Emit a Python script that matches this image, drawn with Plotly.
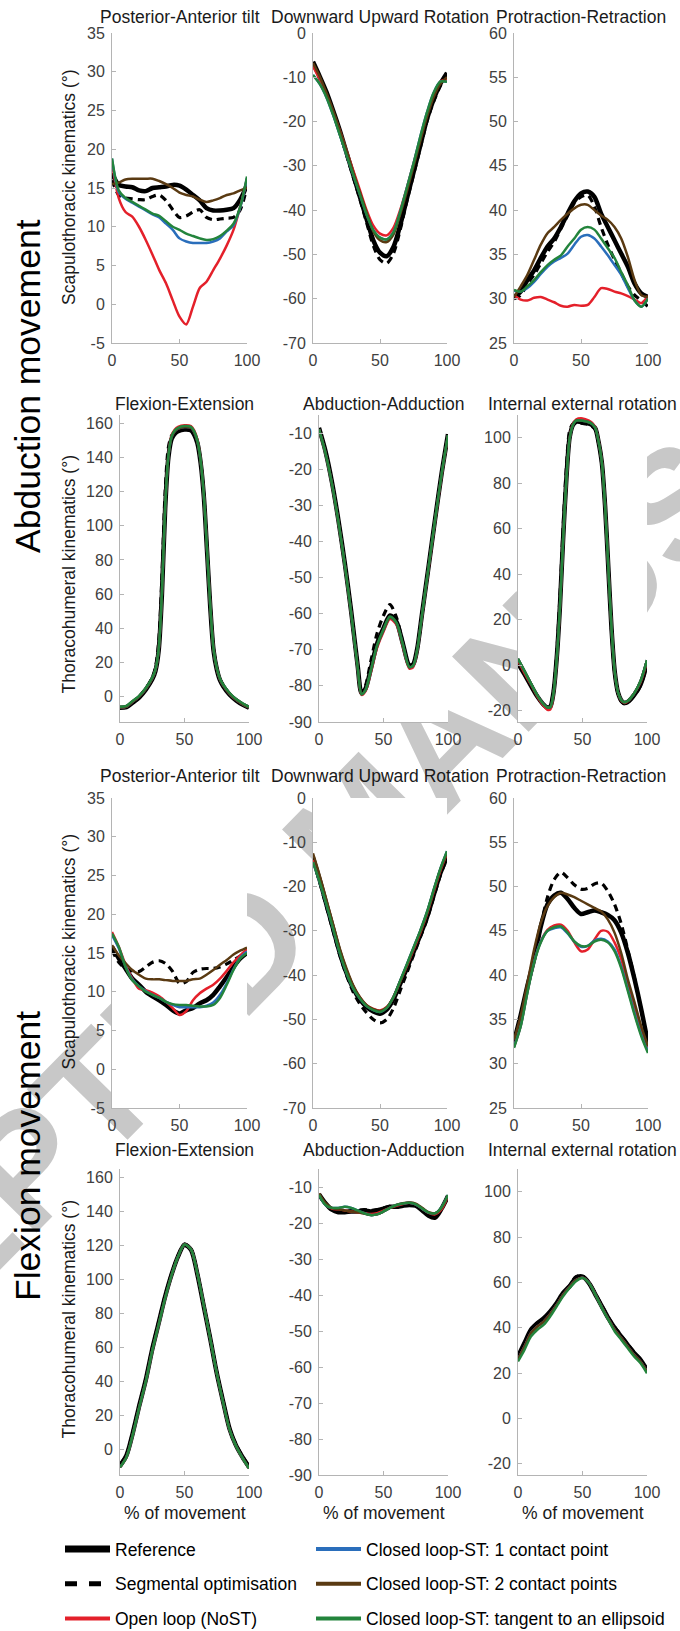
import plotly.graph_objects as go

W, H = 680, 1631

# ---------------- data ----------------
X5 = [0, 5, 10, 15, 20, 25, 30, 35, 40, 45, 50, 55, 60, 65, 70, 75, 80, 85, 90, 95, 100]

# Abduction movement - scapulothoracic
abd_pat_ref = [16.9, 15.4, 15.2, 15.1, 14.7, 14.6, 15.0, 15.1, 15.2, 15.4, 15.3, 14.8, 14.1, 13.4, 12.4, 12.1, 12.1, 12.2, 12.4, 13.5, 15.4]
abd_pat_seg = [16.0, 14.1, 13.7, 13.6, 13.5, 13.5, 13.9, 14.1, 13.4, 12.2, 11.2, 11.4, 11.9, 12.2, 11.2, 10.9, 11.0, 11.1, 11.2, 12.2, 15.2]
abd_pat_opn = [18.2, 13.7, 11.9, 11.3, 10.0, 8.3, 6.4, 4.4, 2.7, 0.5, -1.6, -2.6, -0.3, 2.1, 2.9, 4.4, 5.9, 7.6, 9.6, 12.6, 16.2]
abd_pat_cl1 = [18.8, 14.5, 13.6, 13.1, 12.6, 12.1, 11.6, 11.2, 10.4, 9.6, 8.5, 8.1, 7.9, 7.9, 7.9, 8.1, 8.5, 9.4, 10.2, 12.5, 16.3]
abd_pat_cl2 = [15.5, 15.7, 16.1, 16.2, 16.2, 16.2, 16.2, 15.9, 15.5, 15.0, 14.4, 14.1, 13.9, 13.5, 13.2, 13.4, 13.7, 14.1, 14.3, 14.7, 15.0]
abd_pat_tan = [18.8, 14.7, 13.7, 13.2, 12.7, 12.2, 11.7, 11.4, 10.7, 10.0, 9.6, 9.1, 8.8, 8.5, 8.3, 8.4, 8.8, 9.5, 10.4, 12.6, 16.5]

abd_dur_ref = [-6.5, -9.8, -13.3, -17.5, -22, -27, -32, -37, -42, -46.8, -49.6, -50.4, -48.3, -43.5, -37.5, -31.5, -25.5, -19.5, -15, -11.5, -9]
abd_dur_seg = [-7, -10.3, -13.8, -18, -22.5, -27.5, -32.5, -37.5, -42.8, -48, -51.2, -52, -49.8, -44.5, -38, -32, -26, -20, -15.5, -12, -9.5]
abd_dur_opn = [-7.5, -10.5, -13.8, -17.8, -22, -26.5, -31, -35.5, -40, -43.5, -45.3, -45.7, -44, -40, -35, -29.5, -24, -18.5, -14, -11, -10.5]
abd_dur_cl1 = [-9.5, -11.5, -14.5, -18.5, -23, -27.5, -32, -36.5, -41, -44.5, -46.2, -46.6, -45, -40.5, -35, -29.5, -23.5, -18, -13.5, -11, -11]
abd_dur_cl2 = [-6.8, -9.8, -13.5, -17.5, -22, -26.5, -31.5, -36, -40.5, -44.8, -46.8, -47.2, -45.5, -41, -35.8, -30.2, -24.5, -19, -14.5, -11.5, -10]
abd_dur_tan = [-9.5, -11.5, -14.5, -18.5, -23, -27.5, -32, -36.5, -41, -44.5, -46.2, -46.6, -45, -40.5, -35, -29.5, -23.5, -18, -13.5, -11, -11]

abd_pr_ref = [30.2, 30.8, 32.1, 33.2, 34.6, 35.9, 36.8, 38.1, 39.6, 41.0, 41.9, 42.1, 41.5, 39.6, 38.1, 36.6, 35.1, 33.6, 31.7, 30.6, 30.2]
abd_pr_seg = [30.0, 30.4, 31.7, 32.7, 34.0, 35.3, 36.4, 37.9, 39.4, 40.8, 41.5, 41.7, 40.4, 38.1, 36.1, 34.4, 32.9, 31.4, 30.4, 29.8, 29.1]
abd_pr_opn = [30.4, 29.9, 29.8, 30.1, 30.2, 29.9, 29.6, 29.2, 29.1, 29.3, 29.2, 29.3, 30.2, 31.2, 31.1, 30.8, 30.6, 30.3, 29.9, 29.5, 30.3]
abd_pr_cl1 = [30.9, 30.8, 31.2, 31.9, 32.8, 33.6, 34.2, 34.6, 35.1, 36.1, 37.0, 37.2, 36.8, 35.9, 34.9, 33.8, 32.7, 31.2, 29.8, 29.1, 30.0]
abd_pr_cl2 = [30.2, 31.4, 32.7, 34.4, 36.1, 37.4, 38.1, 38.9, 39.6, 40.2, 40.6, 40.6, 40.0, 39.4, 38.9, 38.1, 36.8, 34.7, 32.1, 30.4, 30.2]
abd_pr_tan = [31.0, 30.8, 31.4, 32.1, 33.0, 33.8, 34.4, 34.9, 35.9, 36.8, 37.8, 38.1, 37.8, 36.8, 35.7, 34.6, 33.0, 31.5, 29.8, 29.1, 30.0]

# Abduction movement - thoracohumeral
X_ABD_FE = [0, 5, 10, 15, 20, 25, 27.5, 30, 32.5, 35, 37.5, 40, 42.5, 45, 50, 55, 57.5, 60, 62.5, 65, 67.5, 70, 72.5, 75, 77.5, 80, 85, 90, 95, 100]
abd_fe_ref = [-6.7, -6.3, -3.5, -0.5, 4, 10, 15, 27, 60, 110, 140, 151, 154, 155.5, 156.5, 156, 153.5, 148.5, 137, 117, 85, 52, 27, 16, 9.5, 6, 1, -2.3, -4.8, -6.7]
abd_fe_seg = [-6.5, -6, -3.2, 0, 4.5, 11, 17, 32, 70, 120, 146, 153, 155, 156, 157, 156.5, 154, 149, 137.5, 117.5, 85.5, 52.5, 27.5, 16.5, 10, 6.5, 1.5, -2, -4.5, -6.5]
abd_fe_opn = [-6.5, -6, -3, 0, 4.5, 10.5, 15.5, 27.5, 60.5, 110.5, 141, 153, 156.5, 158, 159, 158.5, 156, 150.5, 138.5, 118, 86, 53, 28, 16.5, 10, 6.5, 1.5, -2, -4.5, -6.5]
abd_fe_cl1 = [-6.5, -6, -3, 0, 4.5, 10.5, 15.5, 27.5, 60.5, 110.5, 140.5, 152, 155.5, 157, 158, 157.5, 155, 149.5, 138, 117.5, 85.5, 52.5, 27.5, 16.5, 10, 6.5, 1.5, -2, -4.5, -6.5]
abd_fe_cl2 = [-6.5, -6, -3, 0, 4.5, 10.5, 15.5, 27.5, 60.5, 110.5, 140.5, 152, 155.5, 157, 158, 157.5, 155, 149.5, 138, 117.5, 85.5, 52.5, 27.5, 16.5, 10, 6.5, 1.5, -2, -4.5, -6.5]
abd_fe_tan = [-6, -5.5, -2.5, 0.5, 5, 11, 16, 28, 61, 111, 141, 152.5, 156, 157.5, 158.5, 158, 155.5, 150, 138.5, 118, 86, 53, 28, 17, 10.5, 7, 2, -1.5, -4, -6.2]

X_ABD_AA = [0, 5, 10, 15, 20, 25, 30, 33, 36, 40, 45, 50, 55, 60, 65, 70, 73, 76, 80, 85, 90, 95, 100]
abd_aa_ref = [-8.6, -15, -23.5, -34, -46, -59.5, -74.5, -82, -80.8, -75.5, -68.3, -64, -60.5, -62.2, -68.3, -74.3, -74, -70, -59.7, -46.8, -33.8, -21.3, -10.3]
abd_aa_seg = [-8.6, -15, -23.5, -34, -46, -59.5, -74.5, -81.8, -80, -73.5, -65.5, -60.5, -57.5, -61, -68, -74.3, -74, -70, -59.7, -46.8, -33.8, -21.3, -10.3]
abd_aa_opn = [-9, -15.5, -24, -34.5, -46.5, -60, -75, -82.5, -81.5, -76.5, -69.5, -65, -61.5, -63, -69, -75.2, -74.8, -70.5, -60.2, -47.3, -34.3, -21.8, -10.8]
abd_aa_cl1 = [-9, -15.5, -24, -34.5, -46.5, -60, -75, -82.3, -81.2, -76, -69, -64.5, -61, -62.6, -68.6, -74.8, -74.4, -70.3, -60, -47, -34, -21.5, -10.6]
abd_aa_cl2 = [-9, -15.5, -24, -34.5, -46.5, -60, -75, -82.3, -81.2, -76, -69, -64.5, -61, -62.6, -68.6, -74.8, -74.4, -70.3, -60, -47, -34, -21.5, -10.6]
abd_aa_tan = [-9, -15.5, -24, -34.5, -46.5, -60, -75, -82.3, -81.2, -76, -68.8, -64.3, -60.8, -62.5, -68.5, -74.8, -74.4, -70.3, -60, -47, -34, -21.5, -10.6]

X_ABD_IE = [0, 5, 10, 15, 20, 22.5, 25, 27.5, 30, 32.5, 35, 37.5, 40, 42.5, 45, 50, 55, 57.5, 60, 62.5, 65, 67.5, 70, 72.5, 75, 77.5, 80, 82.5, 85, 90, 95, 100]
abd_ie_ref = [0.8, -4, -9, -13.8, -17.5, -18.6, -18.3, -12, 3, 26, 56, 82, 100, 105.5, 107, 106.8, 106.2, 105.5, 104, 98, 89, 70, 43, 16, -3, -12, -15.5, -16.6, -16.2, -13.2, -8.5, 0.7]
abd_ie_seg = [0.7, -4, -9, -13.8, -17.5, -18.6, -18, -11, 5, 30, 61, 87, 103, 106, 106.5, 106.3, 105.8, 105, 103.5, 97.5, 88.5, 69.5, 42.5, 15.5, -3.5, -12.5, -16, -17, -16.5, -13.5, -9, 0.3]
abd_ie_opn = [2, -3.5, -8.5, -13.8, -18, -19.5, -19.5, -13, 2, 25, 55, 81, 99.5, 106, 108, 108.5, 107.5, 106.5, 104.5, 98.5, 89.5, 70.5, 43.5, 16.5, -3, -12, -15.5, -16.6, -16, -12.5, -7.5, 1.5]
abd_ie_cl1 = [2.8, -2.5, -8, -13.3, -17.3, -18.5, -18.5, -12.5, 2.5, 25.5, 55.5, 81.5, 99.5, 105.5, 107.5, 107.5, 106.8, 106, 104.2, 98.2, 89.2, 70.2, 43.2, 16.2, -3, -12, -15.3, -16.3, -15.8, -12.5, -7, 2.2]
abd_ie_cl2 = [2.8, -2.5, -8, -13.3, -17.3, -18.5, -18.5, -12.5, 2.5, 25.5, 55.5, 81.5, 99.5, 105.5, 107.5, 107.5, 106.8, 106, 104.2, 98.2, 89.2, 70.2, 43.2, 16.2, -3, -12, -15.3, -16.3, -15.8, -12.5, -7, 2.2]
abd_ie_tan = [2.8, -2.5, -8, -13.3, -17.3, -18.5, -18.5, -12.5, 2.5, 25.5, 55.5, 81.5, 99.5, 105.5, 107.5, 107.5, 106.8, 106, 104.2, 98.2, 89.2, 70.2, 43.2, 16.2, -3, -12, -15.3, -16.3, -15.8, -12.5, -7, 2.2]

# Flexion movement - scapulothoracic
flx_pat_ref = [15.8, 14.3, 13.0, 11.7, 10.9, 10.0, 9.4, 8.9, 8.3, 7.6, 7.2, 7.6, 7.9, 8.5, 8.9, 9.6, 10.7, 11.9, 13.2, 14.3, 15.0]
flx_pat_seg = [15.4, 13.8, 13.0, 12.7, 12.6, 13.2, 13.8, 14.0, 13.6, 12.6, 11.1, 11.3, 12.5, 12.9, 13.0, 13.0, 13.2, 13.6, 14.1, 14.6, 15.0]
flx_pat_opn = [17.7, 15.8, 13.5, 11.7, 10.4, 10.2, 9.9, 9.4, 8.7, 7.9, 7.0, 7.5, 8.9, 9.8, 10.4, 10.9, 11.7, 12.7, 13.8, 14.7, 15.5]
flx_pat_cl1 = [17.3, 15.6, 13.3, 11.6, 10.7, 10.1, 9.6, 9.2, 8.7, 8.3, 8.0, 8.0, 8.0, 8.0, 8.2, 8.6, 9.6, 11.1, 12.9, 14.4, 15.2]
flx_pat_cl2 = [16.0, 14.7, 13.7, 12.8, 12.2, 11.7, 11.6, 11.6, 11.5, 11.4, 11.4, 11.4, 11.6, 11.7, 12.2, 12.8, 13.5, 14.1, 14.8, 15.3, 15.7]
flx_pat_tan = [17.5, 15.8, 13.2, 11.5, 10.7, 10.0, 9.6, 9.2, 8.7, 8.4, 8.3, 8.3, 8.2, 8.1, 8.1, 8.3, 9.2, 10.9, 12.8, 14.3, 15.0]

flx_dur_ref = [-13.5, -18.5, -24, -29.5, -35, -39.5, -43, -45.5, -47.2, -48.2, -48.7, -47.8, -45.5, -42, -38.5, -34.8, -31, -27, -22, -17, -13.3]
flx_dur_seg = [-14, -19, -24.5, -30, -35.5, -40, -43.8, -46.5, -48.5, -50, -50.8, -50, -47.5, -43.5, -39.5, -35.5, -31.5, -27.5, -22.5, -17.5, -13.5]
flx_dur_opn = [-14, -18.5, -23.5, -29, -34.5, -39, -42.5, -45, -46.8, -47.6, -48, -47.2, -45, -41.5, -38, -34.3, -30.5, -26.3, -21.3, -16.5, -12.5]
flx_dur_cl1 = [-14.5, -19, -24, -29.5, -35, -39.5, -43, -45.3, -47, -47.9, -48.3, -47.4, -45, -41.3, -37.6, -33.8, -30, -25.8, -20.8, -16, -12]
flx_dur_cl2 = [-12.5, -17.5, -23, -28.5, -34, -38.5, -42.3, -45, -46.8, -47.7, -48.1, -47.3, -45, -41.5, -37.8, -34, -30.2, -26, -21, -16.2, -12.3]
flx_dur_tan = [-14.5, -19, -24, -29.5, -35, -39.5, -43, -45.3, -47, -47.9, -48.3, -47.4, -45, -41.3, -37.6, -33.8, -30, -25.8, -20.8, -16, -12]

flx_pr_ref = [32.5, 35.5, 38.8, 41.8, 45.5, 48.0, 49.0, 49.3, 48.6, 47.6, 46.9, 47.1, 47.3, 47.1, 46.8, 46.2, 44.8, 42.5, 39.5, 36.1, 32.3]
flx_pr_seg = [32.4, 35.4, 38.7, 41.8, 45.5, 48.8, 50.8, 51.6, 51.0, 50.2, 49.7, 49.8, 50.3, 50.4, 49.5, 48.0, 45.8, 42.8, 39.6, 36.0, 32.2]
flx_pr_opn = [31.9, 34.3, 38.1, 41.5, 43.8, 45.1, 45.6, 45.7, 45.0, 43.7, 42.7, 42.9, 44.0, 45.0, 44.9, 43.7, 41.8, 38.9, 36.1, 33.6, 31.8]
flx_pr_cl1 = [31.9, 34.3, 38.1, 41.5, 43.8, 45.0, 45.3, 45.4, 44.7, 43.8, 43.2, 43.3, 43.9, 44.1, 43.8, 42.9, 41.0, 38.4, 35.7, 33.3, 31.4]
flx_pr_cl2 = [32.7, 35.4, 39.1, 42.9, 45.9, 47.8, 48.8, 49.3, 49.1, 48.8, 48.4, 48.0, 47.6, 47.2, 46.3, 44.8, 42.5, 39.5, 36.9, 34.2, 32.0]
flx_pr_tan = [31.8, 34.2, 38.0, 41.4, 43.7, 45.0, 45.4, 45.5, 44.8, 43.8, 43.3, 43.3, 43.8, 44.0, 43.7, 42.7, 40.8, 38.2, 35.5, 33.1, 31.2]

# Flexion movement - thoracohumeral
flx_fe_ref = [-9.5, -3.5, 10, 26, 41, 59, 74.5, 90, 103, 113.6, 120.4, 117.5, 103, 84, 65, 45, 28, 12, 2.3, -4.5, -10.3]
flx_fe_seg = [-9, -3, 10.5, 26.5, 41.5, 59.5, 75, 90.5, 103.5, 114, 120.8, 118, 103.5, 84.5, 65.5, 45.5, 28.5, 12.5, 2.8, -4, -10]
flx_fe_opn = [-10.5, -4.5, 9, 25, 40, 58, 73.5, 89, 102.5, 113.5, 120.6, 117.8, 103.5, 84.5, 65, 45, 27.5, 11.5, 2, -5, -11]
flx_fe_cl1 = [-10.5, -4.5, 9, 25, 40, 58, 73.5, 89, 102.5, 113.5, 120.6, 117.8, 103.5, 84.5, 65, 45, 27.5, 11.5, 2, -5, -11]
flx_fe_cl2 = [-10.5, -4.5, 9, 25, 40, 58, 73.5, 89, 102.5, 113.5, 120.6, 117.8, 103.5, 84.5, 65, 45, 27.5, 11.5, 2, -5, -11]
flx_fe_tan = [-10.5, -4.5, 9, 25, 40, 58, 73.5, 89, 102.5, 113.5, 120.6, 117.8, 103.5, 84.5, 65, 45, 27.5, 11.5, 2, -5, -11]

flx_aa_ref = [-12, -14.5, -16.3, -17, -17, -16.8, -16.8, -16.5, -16.8, -16.5, -16, -15.5, -15.5, -15.2, -15, -15.2, -16.5, -18, -18.5, -16, -12.5]
flx_aa_seg = [-12.2, -14.8, -16.2, -16.8, -16.8, -16.6, -16.5, -16.3, -16.5, -16.3, -15.8, -15.4, -15.3, -15, -14.8, -15, -16.2, -17.6, -18.2, -16, -12.5]
flx_aa_opn = [-12, -14.8, -16, -16.2, -16.5, -16.8, -17, -17.2, -17.5, -17.3, -16.6, -15.8, -15.2, -14.7, -14.4, -14.8, -16, -17.2, -17.6, -16.2, -12.5]
flx_aa_cl1 = [-12.2, -15, -15.8, -15.8, -15.5, -15.8, -16.5, -17.3, -17.8, -17.6, -16.8, -15.8, -15, -14.6, -14.4, -14.8, -16, -17.1, -17.3, -15.6, -12.2]
flx_aa_cl2 = [-11.8, -14.5, -15.8, -16.2, -16.5, -16.8, -17, -17.4, -17.8, -17.6, -16.8, -15.8, -15, -14.5, -14.3, -14.6, -15.8, -17, -17.3, -15.8, -12.3]
flx_aa_tan = [-12.2, -15, -15.8, -15.8, -15.5, -15.8, -16.5, -17.3, -17.8, -17.6, -16.8, -15.8, -15, -14.6, -14.4, -14.8, -16, -17.1, -17.3, -15.6, -12.2]

flx_ie_ref = [27.3, 33.2, 39.1, 42.0, 44.2, 47.2, 50.9, 55.3, 58.3, 62.0, 62.5, 59.7, 54.6, 49.4, 44.2, 39.8, 36.1, 32.4, 28.8, 25.8, 21.4]
flx_ie_seg = [27.0, 33.0, 39.0, 42.0, 44.0, 47.0, 50.7, 55.0, 58.5, 62.5, 62.8, 60.0, 55.0, 49.8, 44.6, 40.2, 36.5, 32.8, 29.2, 26.0, 21.5]
flx_ie_opn = [26.0, 31.5, 37.5, 40.5, 42.7, 46.0, 50.0, 54.5, 58.0, 61.0, 62.0, 59.8, 54.6, 49.0, 43.8, 39.0, 35.4, 31.7, 28.0, 25.0, 20.6]
flx_ie_cl1 = [26.0, 31.5, 37.5, 40.5, 42.7, 46.0, 50.0, 54.5, 58.0, 61.0, 62.0, 59.8, 54.6, 49.0, 43.8, 39.0, 35.4, 31.7, 28.0, 25.0, 20.6]
flx_ie_cl2 = [26.0, 31.5, 37.5, 40.5, 42.7, 46.0, 50.0, 54.5, 58.0, 61.0, 62.0, 59.8, 54.6, 49.0, 43.8, 39.0, 35.4, 31.7, 28.0, 25.0, 20.6]
flx_ie_tan = [25.1, 30.2, 36.1, 39.1, 41.3, 45.0, 49.4, 53.8, 57.5, 60.5, 61.9, 59.7, 54.6, 48.7, 43.5, 38.3, 34.7, 31.0, 27.3, 24.3, 19.9]

SERIES_NAMES = ["Reference", "Segmental optimisation", "Open loop (NoST)",
                "Closed loop-ST: 1 contact point", "Closed loop-ST: 2 contact points",
                "Closed loop-ST: tangent to an ellipsoid"]

TITLES_ST = ["Posterior-Anterior tilt", "Downward Upward Rotation", "Protraction-Retraction"]
TITLES_TH = ["Flexion-Extension", "Abduction-Adduction", "Internal external rotation"]

Y_RANGE_ST = [[-5, 35], [-70, 0], [25, 60]]
Y_TICKS_ST = [list(range(-5, 36, 5)), list(range(-70, 1, 10)), list(range(25, 61, 5))]
Y_RANGE_TH = [[-15, 165], [-90, -5], [-25, 110]]
Y_TICKS_TH = [list(range(0, 161, 20)), list(range(-90, -9, 10)), list(range(-20, 101, 20))]
X_TICKS = [0, 50, 100]

panels = [
    (X5, [abd_pat_ref, abd_pat_seg, abd_pat_opn, abd_pat_cl1, abd_pat_cl2, abd_pat_tan]),
    (X5, [abd_dur_ref, abd_dur_seg, abd_dur_opn, abd_dur_cl1, abd_dur_cl2, abd_dur_tan]),
    (X5, [abd_pr_ref, abd_pr_seg, abd_pr_opn, abd_pr_cl1, abd_pr_cl2, abd_pr_tan]),
    (X_ABD_FE, [abd_fe_ref, abd_fe_seg, abd_fe_opn, abd_fe_cl1, abd_fe_cl2, abd_fe_tan]),
    (X_ABD_AA, [abd_aa_ref, abd_aa_seg, abd_aa_opn, abd_aa_cl1, abd_aa_cl2, abd_aa_tan]),
    (X_ABD_IE, [abd_ie_ref, abd_ie_seg, abd_ie_opn, abd_ie_cl1, abd_ie_cl2, abd_ie_tan]),
    (X5, [flx_pat_ref, flx_pat_seg, flx_pat_opn, flx_pat_cl1, flx_pat_cl2, flx_pat_tan]),
    (X5, [flx_dur_ref, flx_dur_seg, flx_dur_opn, flx_dur_cl1, flx_dur_cl2, flx_dur_tan]),
    (X5, [flx_pr_ref, flx_pr_seg, flx_pr_opn, flx_pr_cl1, flx_pr_cl2, flx_pr_tan]),
    (X5, [flx_fe_ref, flx_fe_seg, flx_fe_opn, flx_fe_cl1, flx_fe_cl2, flx_fe_tan]),
    (X5, [flx_aa_ref, flx_aa_seg, flx_aa_opn, flx_aa_cl1, flx_aa_cl2, flx_aa_tan]),
    (X5, [flx_ie_ref, flx_ie_seg, flx_ie_opn, flx_ie_cl1, flx_ie_cl2, flx_ie_tan]),
]

# ---------------- styles / layout ----------------
COLORS = ["#000000", "#000000", "#e4202a", "#2a6ebb", "#5a3a12", "#23843c"]
WIDTHS = [4.5, 3.2, 2.5, 2.5, 2.5, 2.5]
DASHES = ["solid", "7px,5px", "solid", "solid", "solid", "solid"]
LEG_WIDTHS = [7, 5, 4, 4, 4, 4]
LEG_DASHES = ["solid", "12px,12px", "solid", "solid", "solid", "solid"]

ROW_PX = [(33, 343), (415, 722), (798, 1108), (1169, 1475)]
COLS_ST = [(112, 247), (313, 447), (514, 648)]
COLS_TH = [(120, 249), (319, 448), (518, 647)]
TITLE_Y = [16.5, 404, 776, 1150]

AX_COL = "#b4b4b4"
TICK_FONT = dict(family="Liberation Sans, Arial", size=16, color="#404040")
TXT_FONT = dict(family="Liberation Sans, Arial", size=17.5, color="#1a1a1a")


def px_x(v):
    return v / W


def px_y(v):
    return 1 - v / H


fig = go.Figure()
layout = {}
annotations = []
plot_covers = []

for idx, (xs, ys_list) in enumerate(panels):
    r, c = divmod(idx, 3)
    n = idx + 1
    st = r in (0, 2)
    cols = COLS_ST if st else COLS_TH
    x0, x1 = cols[c]
    y0, y1 = ROW_PX[r]
    yr = (Y_RANGE_ST if st else Y_RANGE_TH)[c]
    yt = (Y_TICKS_ST if st else Y_TICKS_TH)[c]
    xa = "xaxis" if n == 1 else f"xaxis{n}"
    ya = "yaxis" if n == 1 else f"yaxis{n}"
    xref = "x" if n == 1 else f"x{n}"
    yref = "y" if n == 1 else f"y{n}"
    layout[xa] = dict(domain=[px_x(x0), px_x(x1)], range=[0, 100], anchor=yref,
                      tickvals=X_TICKS, ticktext=[str(v) for v in X_TICKS],
                      ticks="inside", ticklen=4, tickcolor=AX_COL,
                      showline=True, linecolor=AX_COL, linewidth=1, showgrid=False,
                      zeroline=False, tickfont=TICK_FONT, ticklabelstandoff=3,
                      automargin=False, fixedrange=True)
    layout[ya] = dict(domain=[px_y(y1), px_y(y0)], range=yr, anchor=xref,
                      tickvals=yt, ticktext=[str(v) for v in yt],
                      ticks="inside", ticklen=4, tickcolor=AX_COL,
                      showline=True, linecolor=AX_COL, linewidth=1, showgrid=False,
                      zeroline=False, tickfont=TICK_FONT, ticklabelstandoff=3,
                      automargin=False, fixedrange=True)
    for s, ys in enumerate(ys_list):
        fig.add_trace(go.Scatter(
            x=xs, y=ys, mode="lines", xaxis=xref, yaxis=yref, showlegend=False,
            line=dict(color=COLORS[s], width=WIDTHS[s], dash=DASHES[s],
                      shape="spline", smoothing=0.8),
            hoverinfo="skip"))
    title = (TITLES_ST if st else TITLES_TH)[c]
    annotations.append(dict(text=title, xref="paper", yref="paper",
                            x=px_x((x0 + x1) / 2), y=px_y(TITLE_Y[r]),
                            xanchor="center", yanchor="middle", showarrow=False, font=TXT_FONT))
    if r == 3:
        annotations.append(dict(text="% of movement", xref="paper", yref="paper",
                                x=px_x((x0 + x1) / 2), y=px_y(1513),
                                xanchor="center", yanchor="middle", showarrow=False, font=TXT_FONT))
    # opaque plot area (hides the watermark inside the axes, like the original)
    plot_covers.append(dict(type="rect", xref=f"{xref} domain", yref=f"{yref} domain",
                            x0=0, x1=1, y0=0, y1=1, layer="below",
                            fillcolor="white", line=dict(width=0)))

for txt, yc in [("Scapulothoracic kinematics (°)", 187.5), ("Thoracohumeral kinematics (°)", 575),
                ("Scapulothoracic kinematics (°)", 952), ("Thoracohumeral kinematics (°)", 1320)]:
    annotations.append(dict(text=txt, xref="paper", yref="paper", x=px_x(68.5), y=px_y(yc),
                            xanchor="center", yanchor="middle", textangle=-90, showarrow=False,
                            font=TXT_FONT))

for txt, yc in [("Abduction movement", 386), ("Flexion movement", 1156)]:
    annotations.append(dict(text=txt, xref="paper", yref="paper", x=px_x(28), y=px_y(yc),
                            xanchor="center", yanchor="middle", textangle=-90, showarrow=False,
                            font=dict(family="Liberation Sans, Arial", size=35.5, color="#000000")))

for s, name in enumerate(SERIES_NAMES):
    fig.add_trace(go.Scatter(
        x=[None], y=[None], mode="lines", name=name, legendgroup=name,
        legend="legend" if s < 3 else "legend2", showlegend=True,
        line=dict(color=COLORS[s], width=LEG_WIDTHS[s], dash=LEG_DASHES[s])))

leg_common = dict(font=dict(family="Liberation Sans, Arial", size=17.5, color="#000000"),
                  bgcolor="rgba(0,0,0,0)", traceorder="grouped", tracegroupgap=9,
                  xanchor="left", yanchor="top", itemwidth=45, itemclick=False,
                  itemdoubleclick=False)

watermark = dict(type="line", xref="paper", yref="paper", layer="below",
                 x0=px_x(70.1), y0=px_y(1099.7), x1=px_x(630.9), y1=px_y(529.3),
                 line=dict(color="rgba(0,0,0,0)", width=1),
                 label=dict(text="ACCEPTED MANUSCRIPT", textposition="middle", yanchor="middle",
                            textangle=-45.5, padding=0,
                            font=dict(family="Liberation Sans, Arial", size=156,
                                      color="#c8c8c8", weight="bold")))

fig.update_layout(
    width=W, height=H, margin=dict(l=0, r=0, t=0, b=0, autoexpand=False),
    paper_bgcolor="white", plot_bgcolor="white",
    annotations=annotations, shapes=[watermark] + plot_covers,
    legend=dict(x=px_x(60), y=px_y(1531), **leg_common),
    legend2=dict(x=px_x(311), y=px_y(1531), **leg_common),
    **layout)

fig.write_html("out.html", config={"displayModeBar": False},
               post_script="document.body.style.margin='0';document.body.style.padding='0';"
                           "document.documentElement.style.overflow='hidden';")
